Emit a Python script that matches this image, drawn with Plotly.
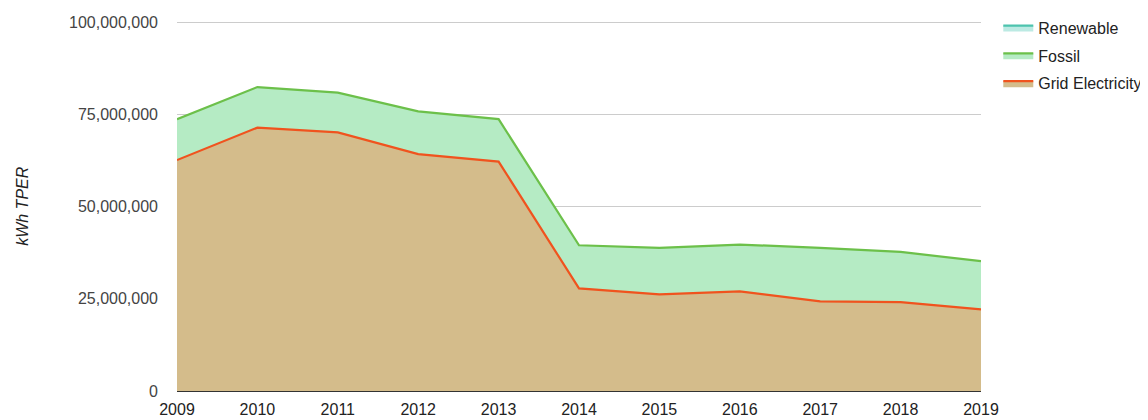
import plotly.graph_objects as go

years = [2009, 2010, 2011, 2012, 2013, 2014, 2015, 2016, 2017, 2018, 2019]
grid_electricity = [62.6, 71.4, 70.1, 64.2, 62.2, 27.8, 26.2, 27.0, 24.3, 24.1, 22.1]
fossil = [11.1, 11.0, 10.8, 11.6, 11.5, 11.7, 12.6, 12.7, 14.5, 13.6, 13.1]
renewable = [0, 0, 0, 0, 0, 0, 0, 0, 0, 0, 0]
y_ticks = [0, 25_000_000, 50_000_000, 75_000_000, 100_000_000]

M = 1_000_000
FONT = "Liberation Sans, Arial, sans-serif"

REN_LINE, REN_FILL = "#4DC3AE", "rgba(160,225,215,0.7)"
GRID_LINE, GRID_FILL = "#F0531E", "#D4BC8B"
FOS_LINE, FOS_FILL = "#6CC04A", "#B5EBC4"

fig = go.Figure()
# Renewable (all zero) sits at the bottom of the stack; its legend entry is a separate key
fig.add_trace(go.Scatter(
    x=years, y=[v * M for v in renewable], name="Renewable", stackgroup="s",
    mode="lines", line=dict(color=REN_LINE, width=0), fillcolor=REN_FILL,
    showlegend=False, legendgroup="ren"))
fig.add_trace(go.Scatter(
    x=years, y=[v * M for v in grid_electricity], name="Grid Electricity", stackgroup="s",
    mode="lines", line=dict(color=GRID_LINE, width=2.2), fillcolor=GRID_FILL,
    legendrank=3, legendgroup="grid"))
fig.add_trace(go.Scatter(
    x=years, y=[v * M for v in fossil], name="Fossil", stackgroup="s",
    mode="lines", line=dict(color=FOS_LINE, width=2.2), fillcolor=FOS_FILL,
    legendrank=2, legendgroup="fos"))
# legend key for Renewable
fig.add_trace(go.Scatter(
    x=[None], y=[None], name="Renewable", mode="lines", fill="tozeroy",
    line=dict(color=REN_LINE, width=2.2), fillcolor=REN_FILL,
    legendrank=1, legendgroup="ren", hoverinfo="skip"))

# page body has an 8px margin, so the figure is sized/offset to fit the 1148x420 window
fig.update_layout(
    width=1140, height=412,
    margin=dict(l=169, r=167, t=13, b=29, autoexpand=False),
    paper_bgcolor="white", plot_bgcolor="white",
    font=dict(family=FONT, size=16, color="#444"),
    showlegend=True,
    legend=dict(x=1.0215, y=1.028, xanchor="left", yanchor="top",
                traceorder="grouped", tracegroupgap=4,
                font=dict(family=FONT, size=16, color="#222"),
                bgcolor="rgba(0,0,0,0)", itemwidth=30),
    xaxis=dict(range=[2009, 2019], tickmode="array", tickvals=years,
               ticktext=[str(y) for y in years], showgrid=False, zeroline=False,
               showline=True, linecolor="#333", linewidth=1, ticks="",
               ticklabelstandoff=4, automargin=False,
               tickfont=dict(size=16, color="#222")),
    yaxis=dict(range=[0, 100_300_000], tickmode="array", tickvals=y_ticks,
               tickformat=",", showgrid=True, gridcolor="#CCCCCC", gridwidth=1,
               zeroline=False, showline=False, ticks="", ticklabelstandoff=18,
               automargin=False, tickfont=dict(size=16, color="#444")),
    annotations=[dict(text="<i>kWh TPER</i>", xref="paper", yref="paper",
                      x=-0.193, y=0.5, xanchor="center", yanchor="middle",
                      textangle=-90, showarrow=False,
                      font=dict(family=FONT, size=16, color="#222"))],
)

fig.write_html("out.html")
